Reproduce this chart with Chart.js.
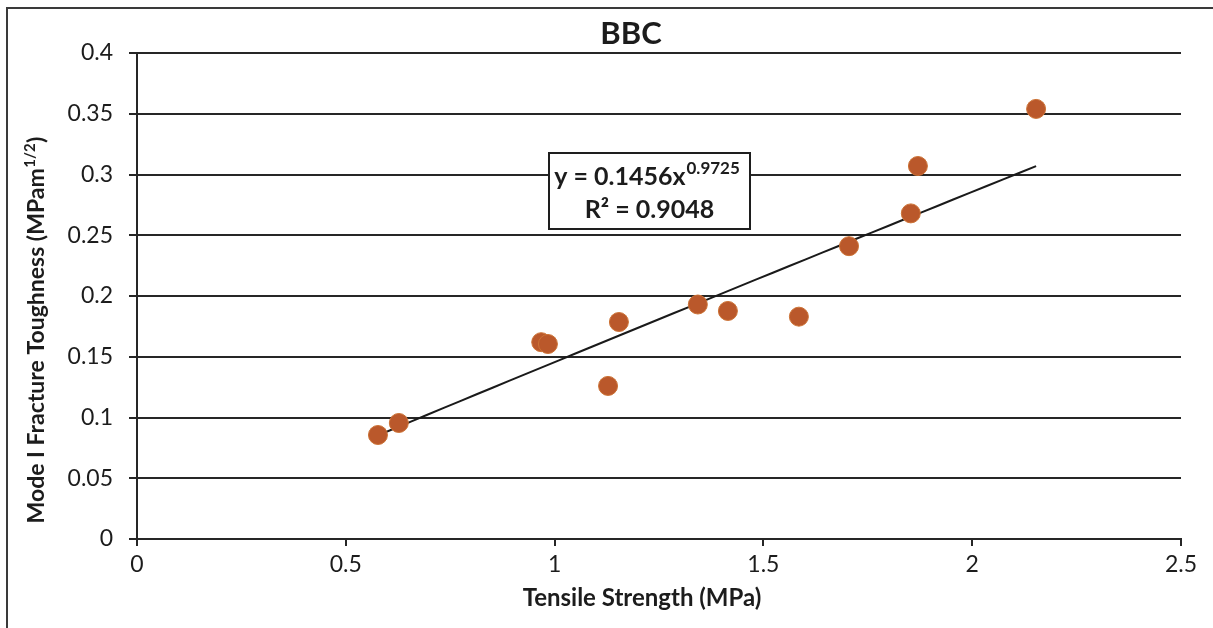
<!DOCTYPE html>
<html>
<head>
<meta charset="utf-8">
<script src="https://cdn.jsdelivr.net/npm/chart.js@4.4.1/dist/chart.umd.min.js"></script>
<style>
  html, body { margin: 0; padding: 0; background: #ffffff; }
  #wrap { width: 1213px; height: 628px; position: relative; }
</style>
</head>
<body>
<div id="wrap"><canvas id="c" width="1213" height="628"></canvas></div>
<script>
// Tensile strength (MPa) and Mode I fracture toughness (MPa·m^1/2) of BBC samples
const tensileStrength = [0.577, 0.627, 0.968, 0.984, 1.128, 1.154, 1.343, 1.415, 1.585, 1.705, 1.853, 1.870, 2.153];
const fractureToughness = [0.0856, 0.0955, 0.162, 0.1605, 0.126, 0.1786, 0.193, 0.1877, 0.183, 0.241, 0.268, 0.307, 0.354];

// Power-law fit y = a·x^b and its coefficient of determination
const fitA = 0.1456;
const fitB = 0.9725;
const fitR2 = 0.9048;

const xTicks = [0, 0.5, 1, 1.5, 2, 2.5];
const yTicks = [0, 0.05, 0.1, 0.15, 0.2, 0.25, 0.3, 0.35, 0.4];

const chartTitle = 'BBC';
const xTitle = 'Tensile Strength (MPa)';
const yTitleMain = 'Mode I Fracture Toughness (MPam';
const yTitleSup = '1/2';
const yTitleEnd = ')';

// Trend curve sampled along the fitted power law between the extreme samples
const xMin = Math.min(...tensileStrength);
const xMax = Math.max(...tensileStrength);
const trendSteps = 40;
const trendPoints = [];
for (let i = 0; i <= trendSteps; i++) {
  const x = xMin + (xMax - xMin) * i / trendSteps;
  trendPoints.push({ x: x, y: fitA * Math.pow(x, fitB) });
}

const FONT = 'Lato, "Open Sans", sans-serif';
const INK = '#1c1c1c';
const GRID = '#262626';

const decorations = {
  id: 'decorations',
  afterDraw(chart) {
    const ctx = chart.ctx;
    ctx.save();

    // outer frame (top and left edges)
    ctx.strokeStyle = '#3a3a3a';
    ctx.lineWidth = 2;
    ctx.beginPath();
    ctx.moveTo(7, 628);
    ctx.lineTo(7, 8);
    ctx.lineTo(1213, 8);
    ctx.stroke();

    // chart title
    ctx.fillStyle = INK;
    ctx.font = 'bold 31px ' + FONT;
    ctx.textAlign = 'center';
    ctx.textBaseline = 'middle';
    ctx.fillText(chartTitle, 631, 34);

    // x axis title
    ctx.font = 'bold 24px ' + FONT;
    ctx.fillText(xTitle, 642, 598);

    // y axis title with superscript exponent
    ctx.save();
    ctx.translate(36, 330);
    ctx.rotate(-Math.PI / 2);
    const mainFont = 'bold 23px ' + FONT;
    const supFont = 'bold 15px ' + FONT;
    ctx.font = mainFont;
    const w1 = ctx.measureText(yTitleMain).width;
    const w3 = ctx.measureText(yTitleEnd).width;
    ctx.font = supFont;
    const w2 = ctx.measureText(yTitleSup).width;
    const x0 = -(w1 + w2 + w3 + 1) / 2;
    ctx.textAlign = 'left';
    ctx.textBaseline = 'alphabetic';
    ctx.font = mainFont;
    ctx.fillText(yTitleMain, x0, 8);
    ctx.font = supFont;
    ctx.fillText(yTitleSup, x0 + w1 + 0.5, -1);
    ctx.font = mainFont;
    ctx.fillText(yTitleEnd, x0 + w1 + w2 + 1, 8);
    ctx.restore();

    // equation label box
    const bx = 549, by = 153, bw = 201, bh = 76;
    ctx.fillStyle = '#ffffff';
    ctx.fillRect(bx, by, bw, bh);
    ctx.strokeStyle = '#1e1e1e';
    ctx.lineWidth = 2;
    ctx.strokeRect(bx, by, bw, bh);

    ctx.fillStyle = INK;
    ctx.textBaseline = 'alphabetic';
    ctx.textAlign = 'left';
    const eqMain = 'y = ' + fitA.toFixed(4) + 'x';
    const eqSup = fitB.toFixed(4);
    const eqFont = 'bold 25px ' + FONT;
    const eqSupFont = 'bold 17px ' + FONT;
    ctx.font = eqFont;
    const e1 = ctx.measureText(eqMain).width;
    ctx.font = eqSupFont;
    const e2 = ctx.measureText(eqSup).width;
    const ex = bx + bw / 2 - (e1 + e2) / 2 - 3;
    ctx.font = eqFont;
    ctx.fillText(eqMain, ex, 185);
    ctx.font = eqSupFont;
    ctx.fillText(eqSup, ex + e1 + 1, 174);

    ctx.font = eqFont;
    ctx.textAlign = 'center';
    ctx.fillText('R\u00B2 = ' + fitR2.toFixed(4), bx + bw / 2, 218);

    ctx.restore();
  }
};

new Chart(document.getElementById('c'), {
  type: 'scatter',
  data: {
    datasets: [
      {
        label: 'Samples',
        data: tensileStrength.map((x, i) => ({ x: x, y: fractureToughness[i] })),
        backgroundColor: '#BA582B',
        borderColor: '#CC7235',
        borderWidth: 1,
        pointRadius: 9.5,
        pointHoverRadius: 9.5,
        order: 1
      },
      {
        label: 'Power fit',
        type: 'line',
        data: trendPoints,
        borderColor: '#1a1a1a',
        borderWidth: 2,
        pointRadius: 0,
        fill: false,
        tension: 0,
        order: 2
      }
    ]
  },
  options: {
    responsive: false,
    animation: false,
    devicePixelRatio: 1,
    layout: { padding: { top: 53, right: 32, left: 0, bottom: 0 } },
    plugins: {
      legend: { display: false },
      tooltip: { enabled: false },
      title: { display: false }
    },
    scales: {
      x: {
        type: 'linear',
        min: 0,
        max: 2.5,
        afterBuildTicks(scale) { scale.ticks = xTicks.map(v => ({ value: v })); },
        afterFit(scale) { scale.height = 89; },
        grid: {
          display: true,
          drawOnChartArea: false,
          drawTicks: true,
          tickLength: 7,
          color: GRID,
          lineWidth: 2
        },
        border: { display: true, color: GRID, width: 2 },
        ticks: {
          color: INK,
          font: { family: FONT, size: 23 },
          padding: 5,
          maxRotation: 0,
          callback: v => String(v)
        }
      },
      y: {
        type: 'linear',
        min: 0,
        max: 0.4,
        afterBuildTicks(scale) { scale.ticks = yTicks.map(v => ({ value: v })); },
        afterFit(scale) { scale.width = 137; },
        grid: {
          display: true,
          drawOnChartArea: true,
          drawTicks: true,
          tickLength: 8,
          color: GRID,
          lineWidth: 2
        },
        border: { display: true, color: GRID, width: 2 },
        ticks: {
          color: INK,
          font: { family: FONT, size: 23 },
          padding: 16,
          callback: v => String(v)
        }
      }
    }
  },
  plugins: [decorations]
});
</script>
</body>
</html>
